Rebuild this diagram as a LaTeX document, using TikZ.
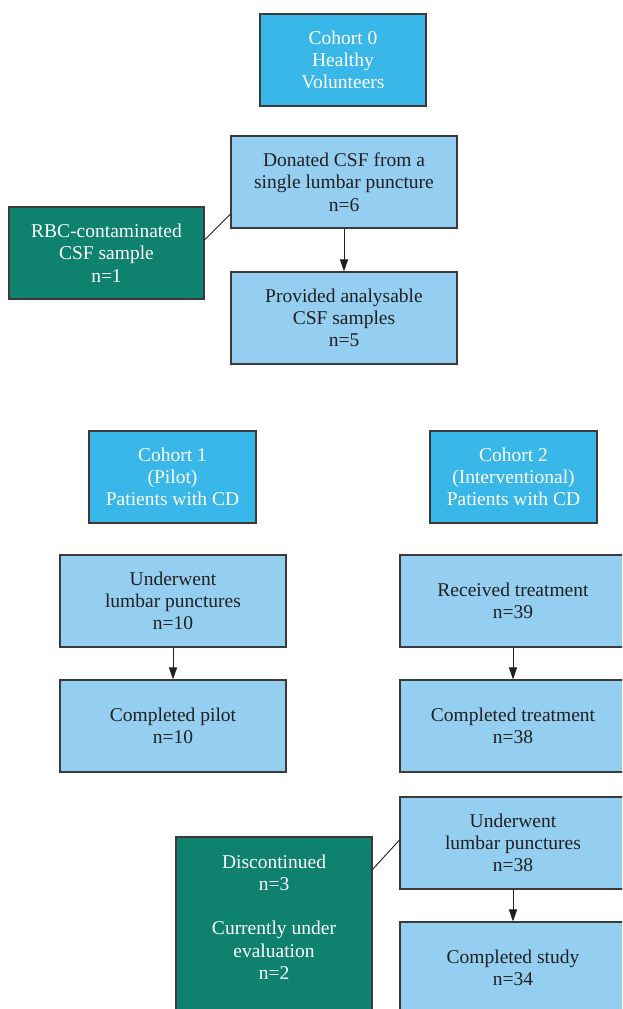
\documentclass[tikz,border=0pt]{standalone}
\usepackage{fontspec}
\setmainfont{Liberation Serif}
\usetikzlibrary{arrows.meta}
\definecolor{cyanbox}{HTML}{3AB7E9}
\definecolor{lightbox}{HTML}{94CFF1}
\definecolor{tealbox}{HTML}{0E826F}
\definecolor{edge}{HTML}{3A3A3A}
\definecolor{txt}{HTML}{231F20}
\begin{document}
\begin{tikzpicture}[x=1pt,y=-1pt,
  base/.style={draw=edge,line width=1.1pt,align=center,inner sep=0pt,font=\fontsize{19.5}{22.3}\selectfont},
  cohort/.style={base,fill=cyanbox,text=white,minimum width=166pt,minimum height=92pt},
  stepbox/.style={base,fill=lightbox,text=txt,minimum width=226pt,minimum height=92pt},
  excl/.style={base,fill=tealbox,text=white,minimum height=92pt},
  plain/.style={align=center,inner sep=0pt,font=\fontsize{19.5}{22.3}\selectfont,text=white},
  arr/.style={-{Triangle[length=12pt,width=8pt]},line width=0.9pt,draw=txt},
  link/.style={line width=0.9pt,draw=txt}]
\useasboundingbox (0,0) rectangle (622,1009);
\clip (0,0) rectangle (622,1009);
\node[cohort] (c0) at (343,60) {Cohort 0\\Healthy\\Volunteers};
\node[stepbox] (don) at (344,182) {Donated CSF from a\\single lumbar puncture\\n=6};
\node[excl,minimum width=195pt] (rbc) at (106.5,253) {RBC-contaminated\\CSF sample\\n=1};
\node[stepbox] (prov) at (344,318) {Provided analysable\\CSF samples\\n=5};
\node[cohort,minimum width=167pt] (c1) at (172.5,477) {Cohort 1\\(Pilot)\\Patients with CD};
\node[cohort,minimum width=167pt] (c2) at (513.5,477) {Cohort 2\\(Interventional)\\Patients with CD};
\node[stepbox] (ul) at (173,601) {Underwent\\lumbar punctures\\n=10};
\node[stepbox] (cp) at (173,726) {Completed pilot\\n=10};
\node[stepbox] (rt) at (513,601) {Received treatment\\n=39};
\node[stepbox] (ct) at (513,726) {Completed treatment\\n=38};
\node[stepbox] (ul2) at (513,843) {Underwent\\lumbar punctures\\n=38};
\node[stepbox] (cs) at (513,968) {Completed study\\n=34};
\node[excl,minimum width=196pt,minimum height=200pt] (disc) at (274,937) {};
\node[plain] (disctext) at (274,917) {Discontinued\\n=3\\[22pt]Currently under\\evaluation\\n=2};
\draw[link] ([yshift=13pt]rbc.east) -- ([yshift=-32pt]don.west);
\draw[arr] (don.south) -- (prov.north);
\draw[arr] (ul.south) -- (cp.north);
\draw[arr] (rt.south) -- (ct.north);
\draw[arr] (ul2.south) -- (cs.north);
\draw[link] ([yshift=-33pt]disc.north east) -- ([yshift=3pt]ul2.west);
\end{tikzpicture}
\end{document}
